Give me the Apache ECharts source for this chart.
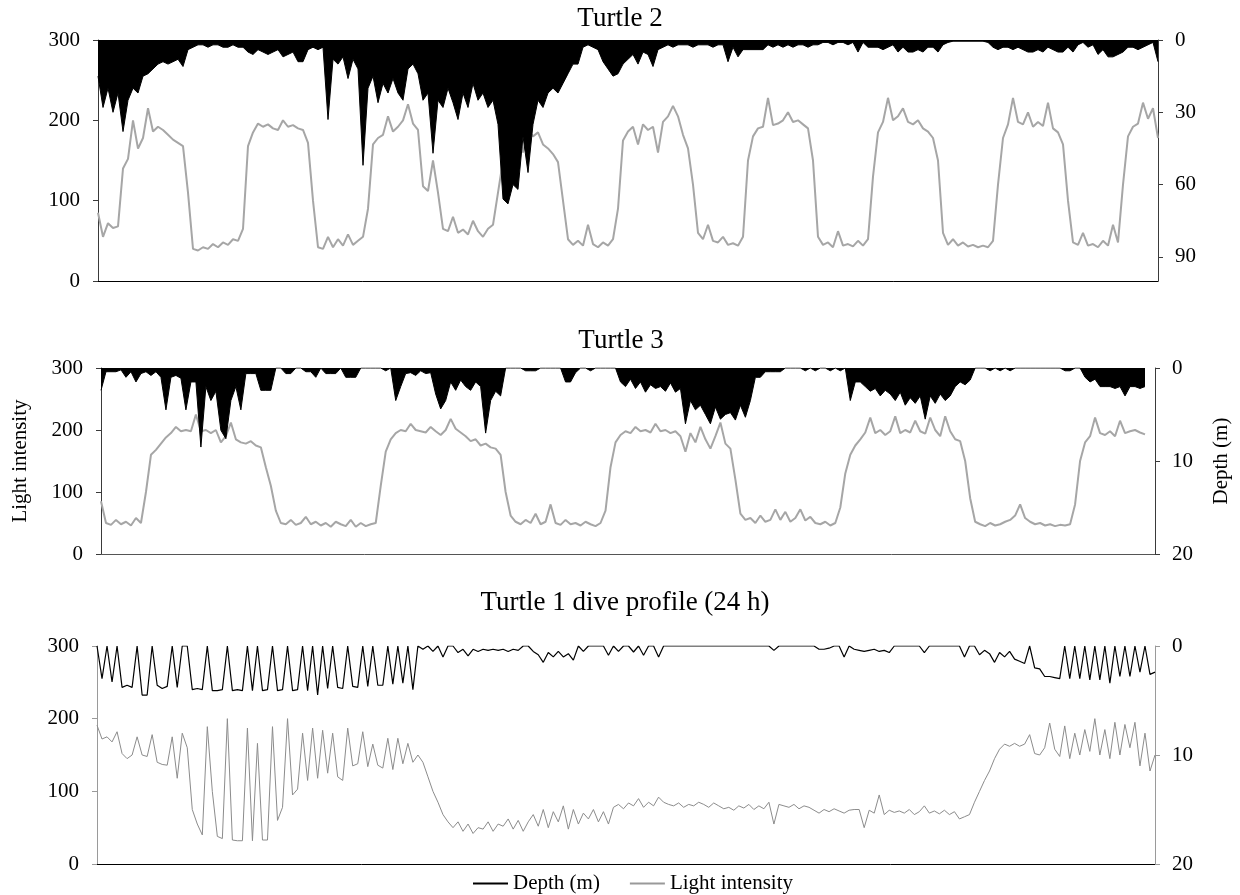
<!DOCTYPE html>
<html><head><meta charset="utf-8">
<script src="https://cdn.jsdelivr.net/npm/echarts@6/dist/echarts.min.js"></script>
<style>html,body{margin:0;padding:0;background:#fff}#c{width:1240px;height:895px}</style>
</head><body><div id="c"></div>
<script>
// ---------------- DATA ----------------
const titles = ['Turtle 2', 'Turtle 3', 'Turtle 1 dive profile (24 h)'];
const lightTicks = [0, 100, 200, 300];
const depthTicksT2 = [0, 30, 60, 90];
const depthTicksT3 = [0, 10, 20];
const depthTicksT1 = [0, 10, 20];
const legendNames = ['Depth (m)', 'Light intensity'];

// Turtle 2 — light intensity
const lightT2 = [85,55,72,66,68,140,152,200,165,178,
 215,186,192,188,182,176,172,168,110,40,
 38,42,40,46,42,48,45,52,50,65,
 168,185,196,192,195,190,188,200,192,194,
 190,188,172,100,42,40,55,42,52,44,
 58,45,50,55,90,170,178,182,205,186,
 192,200,220,196,188,118,112,150,110,65,
 62,80,60,64,58,75,62,55,65,70,
 110,150,178,186,190,160,188,180,185,170,
 165,158,148,100,52,45,50,44,70,46,
 42,48,44,52,90,175,186,192,170,195,
 188,192,160,198,205,218,205,182,165,120,
 60,52,70,50,48,55,45,47,44,55,
 150,180,190,192,228,194,196,200,210,198,
 200,195,190,150,55,45,48,42,62,44,
 46,43,50,44,52,130,185,198,228,200,
 205,215,198,195,200,190,186,178,150,60,
 45,52,44,48,43,45,42,44,42,50,
 120,178,195,228,198,195,210,192,198,193,
 222,190,185,170,100,48,45,60,44,46,
 42,50,44,70,48,120,180,192,196,222,
 202,215,178];
// Turtle 2 — depth (m)
const depthT2 = [15,28,20,30,22,38,25,20,22,15,
 14,12,10,9,10,9,8,11,4,3,
 2,2,3,2,2,3,3,2,3,3,
 5,6,4,5,6,5,4,7,6,5,
 9,9,4,3,4,3,33,8,10,7,
 16,8,12,52,20,15,26,18,22,16,
 22,25,12,10,14,25,22,47,25,28,
 20,26,33,22,28,18,25,22,28,25,
 35,66,68,60,62,40,55,35,25,28,
 22,20,22,18,14,10,10,3,2,3,
 4,9,12,15,14,10,8,6,10,5,
 6,11,4,3,2,3,2,2,2,3,
 2,2,2,3,2,2,9,3,7,4,
 4,4,4,4,2,3,2,3,2,3,
 2,2,3,2,2,1,1,2,1,1,
 2,1,5,1,3,3,3,4,3,2,
 5,3,5,5,4,5,3,3,5,2,
 1,0.5,0.5,0.5,0.5,0.5,0.5,0.5,1,3,
 4,3,3,4,3,4,5,5,4,5,
 3,4,5,5,3,5,2,1,3,2,
 6,4,7,7,6,5,3,3,4,3,
 2,1,9];

// Turtle 3 — light intensity
const lightT3 = [85,50,47,55,48,52,46,58,50,100,
 160,168,178,188,195,205,198,200,198,225,
 198,200,195,200,180,190,212,185,180,178,
 182,175,172,140,110,70,50,48,55,47,
 50,60,48,52,46,50,44,52,48,45,
 55,44,50,45,48,50,110,165,185,195,
 200,198,210,200,198,196,205,198,192,200,
 218,202,196,190,182,185,175,178,172,170,
 160,100,62,52,48,55,50,65,48,52,
 80,50,47,55,48,50,46,52,48,45,
 50,70,140,180,192,198,195,205,198,200,
 196,210,198,200,195,198,190,165,195,180,
 205,185,170,190,212,178,170,120,65,55,
 58,50,62,52,55,72,55,68,52,58,
 72,54,60,50,48,52,46,50,75,130,
 160,175,185,196,220,195,200,192,198,222,
 195,200,196,215,198,194,220,200,190,222,
 198,185,182,150,90,52,48,45,50,46,
 48,52,55,62,80,58,52,48,50,46,
 48,45,47,46,48,80,150,180,190,220,
 195,192,198,190,215,195,198,200,196,193,
 null,null];
// Turtle 3 — depth (m)
const depthT3 = [2.4,0.4,0.4,0.4,0.2,1.0,0.4,1.5,0.6,0.4,
 0.8,0.4,1.0,4.5,1.0,0.8,1.1,4.5,1.5,1.5,
 8.5,2.0,3.5,2.5,6.7,7.6,3.5,2.0,4.5,0.6,
 0.6,0.6,2.4,2.4,2.4,0,0,0.6,0.6,0,
 0,0.4,0.4,1.0,0,0.6,0.6,0.6,0,1.0,
 1.0,1.0,0,0,0,0,0,0.3,0,3.5,
 2.0,0.6,0.5,0.8,0.3,0.6,0.5,2.8,4.4,3.5,
 1.5,2.4,1.3,2.0,2.4,1.5,2.0,7.0,3.5,2.5,
 3.0,0,0,0,0,0.3,0.3,0.3,0,0,
 0,0,0,1.5,1.5,0.5,0,0,0.3,0,
 0,0,0,0,1.5,2.0,1.2,2.2,1.5,2.6,
 1.8,2.2,2.0,2.5,1.6,2.6,2.2,6.0,3.5,4.5,
 4.0,5.0,6.0,4.2,5.5,5.0,4.8,5.6,4.0,5.3,
 3.5,1.0,1.0,0.4,0.4,0.4,0.4,0,0,0,
 0,0.3,0,0.3,0,0,0.3,0,0.3,0,
 3.5,1.5,1.5,2.0,2.5,2.2,3.0,2.4,2.8,3.5,
 2.6,4.0,3.2,3.8,3.0,5.5,3.0,3.8,2.8,3.5,
 3.0,2.0,1.5,1.8,1.3,0,0,0,0.3,0,
 0.3,0,0.3,0,0,0,0,0,0,0,
 0,0,0,0.3,0.3,0,0,1.0,1.5,1.2,
 2.0,2.0,2.0,2.2,2.0,3.0,2.0,2.0,2.2,2.0,
 null,null];

// Turtle 1 (24 h) — light intensity
const lightT1 = [191,172,175,168,182,152,145,150,175,150,
 148,178,140,137,136,175,118,180,160,75,
 55,40,189,100,38,35,200,33,32,32,
 187,32,166,33,33,189,60,78,200,95,
 103,180,115,187,118,184,125,180,120,115,
 187,135,138,182,134,165,136,132,173,130,
 173,138,166,140,150,140,120,100,85,68,
 58,50,58,45,55,42,50,48,58,45,
 55,52,62,48,60,45,58,68,52,75,
 50,72,58,80,48,75,55,70,62,75,
 58,72,55,78,82,76,84,80,90,78,
 85,80,92,85,82,80,84,78,82,80,
 85,82,78,84,80,76,78,74,80,77,
 82,75,80,76,85,55,82,80,78,82,
 76,80,78,74,70,75,72,76,73,70,
 74,75,75,50,74,70,95,68,74,71,
 73,70,75,68,72,80,70,73,69,74,
 68,72,62,65,68,85,100,115,128,145,
 158,165,162,166,162,165,178,152,150,160,
 194,158,148,190,145,180,150,185,155,200,
 150,185,145,195,150,192,160,195,135,180,
 128,150];
// Turtle 1 (24 h) — depth (m)
const depthT1 = [0,3.0,0,3.3,0,3.8,3.6,3.8,0,4.5,
 4.5,0,3.6,3.9,3.7,0,3.8,0,0,4.0,
 3.9,4.0,0,4.1,4.1,4.0,0,4.1,4.0,4.1,
 0,4.1,0,4.1,4.0,0,4.1,4.0,0,4.1,
 4.0,0,4.1,0,4.5,0,3.9,0,3.8,3.9,
 0,3.7,3.8,0,3.7,0,3.6,3.6,0,3.5,
 0,3.4,0,4.0,0,0.3,0,0.5,0,1.0,
 0,0,0.6,0.3,0.9,0.3,0.5,0.3,0.4,0.3,
 0.4,0.3,0.5,0.3,0.4,0,0,0.5,0.8,1.5,
 0.6,1.0,0.5,1.0,0.7,1.3,0,0.5,0,0,
 0,0,0.85,0,0.5,0,0,0.55,0,0.85,
 0,0,1.0,0,0,0,0,0,0,0,
 0,0,0,0,0,0,0,0,0,0,
 0,0,0,0,0,0.4,0,0,0,0,
 0,0,0,0,0.3,0.3,0.2,0,0,1.0,
 0,0.3,0.4,0.5,0.4,0.3,0.5,0.4,0.6,0,
 0,0,0,0,0,0.6,0,0,0,0,
 0,0,0,1.0,0,0,0.8,0.4,0.7,1.5,
 0.6,1.0,0.5,1.2,1.4,1.6,0,2.0,2.1,2.8,
 2.8,2.9,3.0,0,3.0,0,3.0,0,3.1,0,
 3.1,0,3.4,0,2.8,0,2.8,0,2.4,0,
 2.6,2.4];

// ---------------- LAYOUT / STYLE ----------------
const FONT = 'Liberation Serif';
const panels = [
  {title: titles[0], light: lightT2, depth: depthT2, depthMax: 100, depthTicks: depthTicksT2,
   grid: {left: 98, top: 40, width: 1060, height: 241}, titleX: 620, titleY: 5,
   lightColor: '#a6a6a6', lightWidth: 2, axisColor: '#3a3a3a', topColor: '#000', fill: true},
  {title: titles[1], light: lightT3, depth: depthT3, depthMax: 20, depthTicks: depthTicksT3,
   grid: {left: 101, top: 368, width: 1055, height: 186}, titleX: 621, titleY: 327,
   lightColor: '#a6a6a6', lightWidth: 2, axisColor: '#3a3a3a', topColor: '#555', fill: true,
   leftName: 'Light intensity', rightName: 'Depth (m)'},
  {title: titles[2], light: lightT1, depth: depthT1, depthMax: 20, depthTicks: depthTicksT1,
   grid: {left: 97, top: 646, width: 1058, height: 218}, titleX: 625, titleY: 589,
   lightColor: '#8c8c8c', lightWidth: 1, axisColor: '#9a9a9a', topColor: '#000', fill: false}
];

const option = {
  animation: false,
  backgroundColor: '#fff',
  textStyle: {fontFamily: FONT},
  title: [], grid: [], xAxis: [], yAxis: [], series: [],
  legend: {
    left: 468, top: 868, itemWidth: 35, itemHeight: 2, itemGap: 30, icon: 'rect',
    textStyle: {fontFamily: FONT, fontSize: 21, color: '#000'},
    data: [{name: legendNames[0], itemStyle: {color: '#000'}},
           {name: legendNames[1], itemStyle: {color: '#999'}}]
  }
};

panels.forEach((p, k) => {
  option.title.push({text: p.title, left: p.titleX, top: p.titleY, textAlign: 'center', padding: 0,
    textStyle: {fontFamily: FONT, fontSize: 27, fontWeight: 'normal', color: '#000'}});
  option.grid.push(p.grid);
  option.xAxis.push({type: 'category', gridIndex: k, boundaryGap: false, position: 'top',
    data: p.light.map((_, i) => i),
    axisLine: {show: true, lineStyle: {color: p.topColor, width: 1}},
    axisTick: {show: false}, axisLabel: {show: false}, splitLine: {show: false}});
  option.yAxis.push({type: 'value', gridIndex: k, position: 'left', min: 0, max: 300, interval: 100,
    name: p.leftName || '', nameLocation: 'middle', nameRotate: 90, nameGap: 70,
    nameTextStyle: {fontFamily: FONT, fontSize: 21, color: '#000'},
    axisLine: {show: true, lineStyle: {color: p.axisColor, width: 1}},
    axisTick: {show: true, length: 5, customValues: lightTicks, lineStyle: {color: p.axisColor}},
    axisLabel: {fontFamily: FONT, fontSize: 21, color: '#000', margin: 18, customValues: lightTicks},
    splitLine: {show: false}});
  option.yAxis.push({type: 'value', gridIndex: k, position: 'right', inverse: true, min: 0, max: p.depthMax,
    interval: p.depthTicks[1] - p.depthTicks[0],
    name: p.rightName || '', nameLocation: 'middle', nameRotate: 90, nameGap: 56,
    nameTextStyle: {fontFamily: FONT, fontSize: 21, color: '#000'},
    axisLine: {show: true, lineStyle: {color: p.axisColor, width: 1}},
    axisTick: {show: true, length: 5, customValues: p.depthTicks, lineStyle: {color: p.axisColor}},
    axisLabel: {fontFamily: FONT, fontSize: 21, color: '#000', margin: 17, customValues: p.depthTicks},
    splitLine: {show: false}});
  option.series.push({name: legendNames[1], type: 'line', xAxisIndex: k, yAxisIndex: 2 * k,
    data: p.light, symbol: 'none', z: 2,
    lineStyle: {color: p.lightColor, width: p.lightWidth}, itemStyle: {color: p.lightColor}});
  option.series.push({name: legendNames[0], type: 'line', xAxisIndex: k, yAxisIndex: 2 * k + 1,
    data: p.depth, symbol: 'none', z: 3, connectNulls: false,
    lineStyle: {color: '#000', width: p.fill ? 1 : 1.2}, itemStyle: {color: '#000'},
    areaStyle: p.fill ? {color: '#000', opacity: 1, origin: 'start'} : undefined});
});

const chart = echarts.init(document.getElementById('c'), null, {renderer: 'canvas'});
chart.setOption(option);
</script>
</body></html>
